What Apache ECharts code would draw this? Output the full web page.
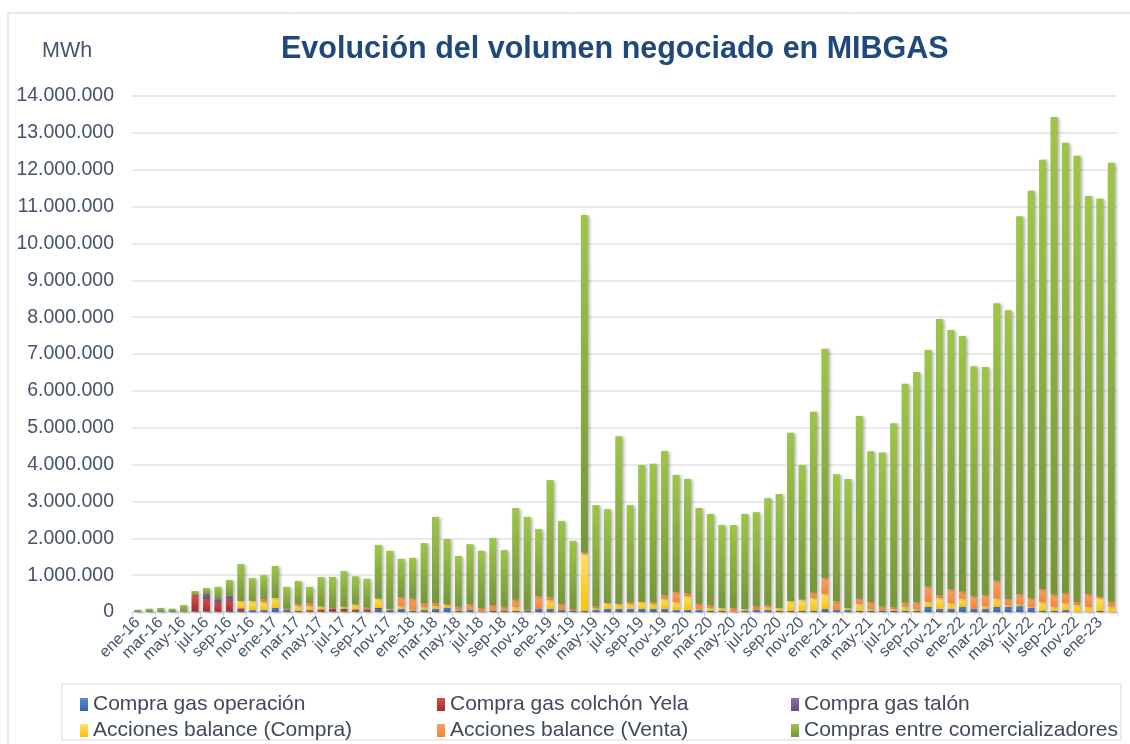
<!DOCTYPE html>
<html>
<head>
<meta charset="utf-8">
<title>MIBGAS</title>
<script src="https://cdn.jsdelivr.net/npm/echarts@6/dist/echarts.min.js"></script>
<style>
  html, body { margin: 0; padding: 0; background: #fff; }
  #main { width: 1130px; height: 744px; }
</style>
</head>
<body>
<div id="main"></div>
<script>
// month labels (ene-16 .. feb-23)
const categories = [
  'ene-16','feb-16','mar-16','abr-16','may-16','jun-16','jul-16','ago-16','sep-16','oct-16','nov-16','dic-16',
  'ene-17','feb-17','mar-17','abr-17','may-17','jun-17','jul-17','ago-17','sep-17','oct-17','nov-17','dic-17',
  'ene-18','feb-18','mar-18','abr-18','may-18','jun-18','jul-18','ago-18','sep-18','oct-18','nov-18','dic-18',
  'ene-19','feb-19','mar-19','abr-19','may-19','jun-19','jul-19','ago-19','sep-19','oct-19','nov-19','dic-19',
  'ene-20','feb-20','mar-20','abr-20','may-20','jun-20','jul-20','ago-20','sep-20','oct-20','nov-20','dic-20',
  'ene-21','feb-21','mar-21','abr-21','may-21','jun-21','jul-21','ago-21','sep-21','oct-21','nov-21','dic-21',
  'ene-22','feb-22','mar-22','abr-22','may-22','jun-22','jul-22','ago-22','sep-22','oct-22','nov-22','dic-22',
  'ene-23','feb-23'
];

// MWh per month
const compraOperacion = [
  20000,20000,20000,20000,10000,20000,20000,10000,30000,30000,
  50000,50000,110000,50000,30000,20000,20000,20000,20000,20000,
  20000,80000,50000,80000,30000,50000,80000,110000,30000,50000,
  0,30000,30000,30000,30000,80000,80000,50000,30000,30000,
  50000,80000,80000,80000,80000,80000,80000,50000,50000,50000,
  30000,30000,0,30000,50000,50000,30000,30000,30000,30000,
  80000,50000,50000,30000,30000,30000,30000,30000,30000,140000,
  80000,80000,140000,80000,80000,140000,140000,160000,110000,30000,
  30000,50000,0,0,30000,0
];
const colchonYela = [
  0,0,0,0,0,440000,330000,240000,300000,70000,
  0,0,0,0,0,30000,50000,70000,70000,50000,
  50000,30000,0,0,0,0,0,0,0,0,
  0,0,0,0,0,0,0,0,0,0,
  0,0,0,0,0,0,0,0,0,0,
  0,0,0,0,0,0,0,0,0,0,
  0,0,0,0,0,0,0,0,0,0,
  0,0,0,0,0,0,0,0,0,0,
  0,0,0,0,0,0
];
const gasTalon = [
  0,0,0,0,0,0,140000,100000,110000,0,
  0,0,0,0,0,0,0,0,0,0,
  0,0,0,0,0,0,0,0,0,0,
  0,0,0,0,0,0,0,0,0,0,
  0,0,0,0,0,0,0,0,0,0,
  0,0,0,0,0,0,0,0,0,0,
  0,0,0,0,0,0,0,0,0,0,
  0,0,0,0,0,0,0,0,0,0,
  0,0,0,0,0,0
];
const balanceCompra = [
  0,0,0,0,0,0,0,0,0,200000,
  250000,220000,270000,0,140000,110000,80000,0,50000,130000,
  0,250000,30000,80000,30000,80000,80000,80000,30000,0,
  0,0,0,110000,0,0,240000,0,0,1550000,
  50000,160000,140000,140000,190000,140000,270000,220000,380000,30000,
  80000,80000,0,50000,0,80000,80000,270000,300000,350000,
  410000,0,50000,190000,50000,0,50000,110000,50000,140000,
  300000,160000,220000,0,80000,220000,50000,50000,30000,240000,
  110000,190000,190000,140000,350000,140000
];
const balanceVenta = [
  0,0,0,0,0,0,0,0,0,0,
  0,80000,0,40000,50000,80000,0,20000,0,0,
  50000,0,0,240000,300000,100000,80000,30000,80000,160000,
  110000,160000,110000,190000,30000,350000,80000,160000,50000,50000,
  50000,0,0,50000,0,50000,110000,270000,80000,140000,
  80000,0,110000,0,110000,50000,0,0,0,140000,
  430000,240000,0,140000,190000,110000,50000,110000,190000,410000,
  80000,380000,190000,350000,300000,490000,160000,270000,240000,350000,
  330000,270000,80000,350000,50000,140000
];
const entreComercializadores = [
  40000,70000,90000,70000,180000,110000,160000,330000,430000,1000000,
  620000,650000,870000,590000,620000,440000,800000,840000,970000,770000,
  780000,1460000,1580000,1040000,1110000,1640000,2340000,1760000,1380000,1630000,
  1550000,1820000,1540000,2490000,2520000,1820000,3180000,2260000,1850000,9140000,
  2750000,2550000,4550000,2630000,3720000,3750000,3910000,3180000,3100000,2600000,
  2470000,2250000,2250000,2580000,2550000,2910000,3090000,4560000,3660000,4910000,
  6220000,3450000,3510000,4960000,4090000,4190000,4990000,5940000,6240000,6420000,
  7490000,7030000,6940000,6240000,6190000,7530000,7840000,10260000,11050000,11650000,
  12960000,12220000,12110000,10800000,10780000,11910000
];

const names = [
  'Compra gas operación', 'Compra gas colchón Yela', 'Compra gas talón',
  'Acciones balance (Compra)', 'Acciones balance (Venta)', 'Compras entre comercializadores'
];

function grad(top, bottom) {
  return {
    type: 'linear', x: 0, y: 0, x2: 0, y2: 1,
    colorStops: [{ offset: 0, color: top }, { offset: 1, color: bottom }]
  };
}

const colors = [
  grad('#5a8fd4', '#2f64ad'),
  grad('#d9534f', '#a52a27'),
  grad('#8a6fae', '#654c86'),
  grad('#ffe26a', '#ffbf00'),
  grad('#fba163', '#f2853a'),
  grad('#9dc648', '#76963a')
];

const seriesData = [compraOperacion, colchonYela, gasTalon, balanceCompra, balanceVenta, entreComercializadores];

const fmt = v => String(v).replace(/\B(?=(\d{3})+(?!\d))/g, '.');

const chart = echarts.init(document.getElementById('main'));

// one legend per entry so the 3x2 grid lines up like the original
const legendLeft = [75, 432, 786];
const legendTop = [689, 715];
const legends = names.map((n, k) => ({
  left: legendLeft[k % 3],
  top: legendTop[Math.floor(k / 3)],
  itemWidth: 8, itemHeight: 13, icon: 'rect', selectedMode: false,
  textStyle: { fontFamily: 'Liberation Sans', fontSize: 21, color: '#3F4A5A' },
  data: [n]
}));

const option = {
  animation: false,
  title: {
    text: 'Evolución del volumen negociado en MIBGAS',
    left: 276, top: 29,
    textStyle: { fontFamily: 'Liberation Sans', fontSize: 30.5, fontWeight: 'bold', color: '#1F497D' }
  },
  graphic: [
    { type: 'rect', shape: { x: 8, y: 13, width: 1200, height: 800 }, style: { fill: 'none', stroke: '#c9d3e2', lineWidth: 1 }, silent: true, z: -1 },
    { type: 'rect', shape: { x: 62, y: 684, width: 1059, height: 56 }, style: { fill: 'none', stroke: '#d4d9e0', lineWidth: 1 }, silent: true, z: -1 },
    { type: 'text', left: 42, top: 40, style: { text: 'MWh', fontFamily: 'Liberation Sans', fontSize: 21.5, fill: '#44546A' } }
  ],
  legend: legends,
  grid: { left: 132, right: 13, top: 96, bottom: 132 },
  xAxis: {
    type: 'category',
    data: categories,
    axisLine: { lineStyle: { color: '#d9d9d9' } },
    axisTick: { show: true, interval: 1, length: 5, lineStyle: { color: '#d9d9d9' } },
    axisLabel: {
      interval: 1, rotate: 45, margin: 8,
      fontFamily: 'Liberation Sans', fontSize: 16, color: '#44546A'
    }
  },
  yAxis: {
    type: 'value',
    min: 0, max: 14000000, interval: 1000000,
    axisLine: { show: false },
    axisTick: { show: false },
    splitLine: { lineStyle: { color: '#dfe3ea', width: 1.5 } },
    axisLabel: {
      margin: 18, fontFamily: 'Liberation Sans', fontSize: 19.5, color: '#44546A',
      formatter: fmt
    }
  },
  series: names.map((n, k) => ({
    name: n,
    type: 'bar',
    stack: 'total',
    barWidth: 7,
    data: seriesData[k],
    itemStyle: {
      color: colors[k],
      shadowColor: 'rgba(0,0,0,0.28)',
      shadowBlur: 3,
      shadowOffsetX: 2,
      shadowOffsetY: 1
    }
  }))
};

chart.setOption(option);
</script>
</body>
</html>
